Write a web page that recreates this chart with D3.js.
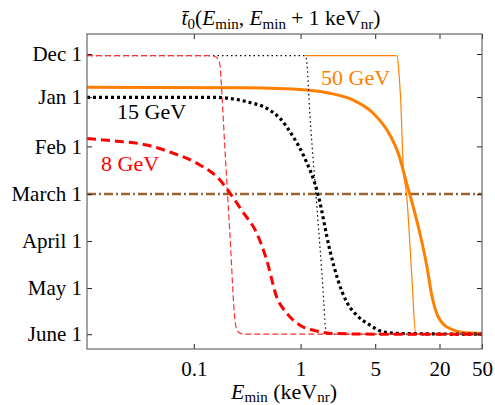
<!DOCTYPE html>
<html>
<head>
<meta charset="utf-8">
<script src="https://cdn.jsdelivr.net/npm/d3@7"></script>
<style>
  body { margin: 0; background: #fff; }
  svg text { font-family: "Liberation Serif", "DejaVu Serif", serif; }
</style>
</head>
<body>
<svg id="chart" width="495" height="405"></svg>
<script>
// ---- data (E_min in keVnr, t0 in days after Dec 1) ----
const monthLabels = ["Dec 1", "Jan 1", "Feb 1", "March 1", "April 1", "May 1", "June 1"];
const monthDays   = [0, 28, 60, 91, 121.5, 152, 182];
const xTicks      = [0.1, 1, 5, 20, 50];
const refDay      = 91; // March 1

const orangeThickE = [0.01, 0.313, 1.14, 1.88, 3.11, 4.80, 6.87, 8.22, 9.85, 11.35, 13.1, 15.2, 16.9, 18.2, 19.5, 25.0, 35.9, 50];
const orangeThickT = [21.6, 21.9, 23.4, 25.5, 29.9, 38.5, 52.6, 64.5, 84.0, 99.3, 116.5, 137.5, 156.5, 165.5, 170.8, 178.3, 181.1, 181.5];
const orangeThinE  = [1.1, 7.66, 8.04, 8.34, 8.65, 9.15, 9.85, 10.97, 11.96, 12.6, 50];
const orangeThinT  = [1.1, 1.1, 1.3, 12.5, 28.8, 73.3, 91.6, 142.5, 181.5, 182, 182];

const blackThickE = [0.01, 0.151, 0.313, 0.482, 0.641, 0.854, 1.06, 1.455, 1.88, 2.24, 2.70, 3.35, 4.47, 5.95, 8.53, 50];
const blackThickT = [28.1, 28.1, 31.0, 35.3, 41.8, 53.8, 65.6, 91, 127.4, 146.9, 161.0, 169.6, 176.1, 180.5, 181.5, 182];
const blackThinE  = [0.01, 1.099, 1.122, 1.16, 1.201, 1.406, 1.646, 1.70, 1.75, 1.81, 50];
const blackThinT  = [1.1, 1.1, 2.0, 10.4, 29.9, 94.9, 159.9, 176, 181, 182, 182];

const redThickE = [0.01, 0.0175, 0.0362, 0.0639, 0.1065, 0.176, 0.218, 0.289, 0.388, 0.482, 0.597, 0.741, 0.987, 1.415, 2.01, 4, 10, 50];
const redThickT = [54.8, 56.4, 59.1, 64.4, 70.9, 81.9, 90.3, 102.7, 116.3, 133.9, 157.8, 168.3, 176.2, 179.9, 181.5, 181.9, 182, 182];
const redThinE  = [0.01, 0.142, 0.158, 0.1685, 0.176, 0.180, 0.196, 0.218, 0.243, 0.254, 0.271, 0.30, 50];
const redThinT  = [1.1, 1.1, 1.6, 3.2, 7.2, 16.9, 62.5, 117, 172.9, 179.4, 181.3, 182, 182];

const series = [
    {E: orangeThinE,  T: orangeThinT,  color: "#ff8000", width: 1.2, dash: null},
    {E: orangeThickE, T: orangeThickT, color: "#ff8000", width: 3,   dash: null},
    {E: blackThinE,   T: blackThinT,   color: "#000",    width: 1.2, dash: "1.5,3"},
    {E: blackThickE,  T: blackThickT,  color: "#000",    width: 3.2, dash: "3,3"},
    {E: redThinE,     T: redThinT,     color: "#ff3030", width: 1.2, dash: "6,3"},
    {E: redThickE,    T: redThickT,    color: "#ff0000", width: 3,   dash: "9,5"}
];

const labels = [
    {text: "50 GeV", x: 321, y: 85,  color: "#ff8000"},
    {text: "15 GeV", x: 117, y: 119, color: "#000"},
    {text: "8 GeV",  x: 101, y: 171, color: "#ff0000"}
];

// ---- layout ----
const margin = {top: 34, right: 13, bottom: 56, left: 87};
const width = 495 - margin.left - margin.right;
const height = 405 - margin.top - margin.bottom;

const svg = d3.select("#chart");
const chart = svg.append("g").attr("transform", `translate(${margin.left},${margin.top})`);

const xScale = d3.scaleLog().domain([0.01, 50]).range([0, width]);
const yScale = d3.scaleLinear().domain([-13, 191.6]).range([0, height]);

// clip so curves stay inside the frame
chart.append("clipPath").attr("id", "clip")
    .append("rect").attr("width", width).attr("height", height);

const plot = chart.append("g").attr("clip-path", "url(#clip)");

// March 1 reference line
plot.append("line")
    .attr("x1", 0).attr("x2", width)
    .attr("y1", yScale(refDay)).attr("y2", yScale(refDay))
    .attr("stroke", "#996633")
    .attr("stroke-width", 2.5)
    .attr("stroke-dasharray", "9,3,2,3");

const line = d3.line()
    .x(d => xScale(d[0]))
    .y(d => yScale(d[1]))
    .curve(d3.curveMonotoneX);

series.forEach(s => {
    plot.append("path")
        .datum(s.E.map((e, i) => [e, s.T[i]]))
        .attr("fill", "none")
        .attr("stroke", s.color)
        .attr("stroke-width", s.width)
        .attr("stroke-dasharray", s.dash)
        .attr("d", line);
});

// Axes: ticks inside the frame, mirrored on top/right
const tickLen = 5;
const xAxisB = d3.axisBottom(xScale).tickValues(xTicks).tickFormat(d3.format("~g")).tickSizeInner(-tickLen).tickSizeOuter(0).tickPadding(12);
const xAxisT = d3.axisTop(xScale).tickValues(xTicks).tickFormat("").tickSizeInner(-tickLen).tickSizeOuter(0);
const yAxisL = d3.axisLeft(yScale).tickValues(monthDays).tickFormat((d, i) => monthLabels[i]).tickSizeInner(-tickLen).tickSizeOuter(0).tickPadding(5);
const yAxisR = d3.axisRight(yScale).tickValues(monthDays).tickFormat("").tickSizeInner(-tickLen).tickSizeOuter(0);

const gB = chart.append("g").attr("transform", `translate(0,${height})`).call(xAxisB);
const gT = chart.append("g").call(xAxisT);
const gL = chart.append("g").call(yAxisL);
const gR = chart.append("g").attr("transform", `translate(${width},0)`).call(yAxisR);

[gB, gT, gL, gR].forEach(g => {
    g.select(".domain").remove();
    g.selectAll(".tick line").attr("stroke", "#222");
    g.selectAll("text")
        .attr("fill", "#000")
        .style("font-family", "'Liberation Serif', serif")
        .style("font-size", "21px");
});

// frame
chart.append("rect")
    .attr("width", width).attr("height", height)
    .attr("fill", "none")
    .attr("stroke", "#666")
    .attr("stroke-width", 1.2);

// curve labels
labels.forEach(l => {
    chart.append("text")
        .attr("x", l.x - margin.left)
        .attr("y", l.y - margin.top)
        .attr("fill", l.color)
        .style("font-size", "22px")
        .text(l.text);
});

// Title: t̄0(Emin, Emin + 1 keVnr)
const title = svg.append("text")
    .attr("x", 281).attr("y", 25)
    .attr("text-anchor", "middle")
    .style("font-size", "21.5px");
title.append("tspan").style("font-style", "italic").text("t\u0304");
title.append("tspan").attr("dy", 4).style("font-size", "15px").text("0");
title.append("tspan").attr("dy", -4).text("(");
title.append("tspan").style("font-style", "italic").text("E");
title.append("tspan").attr("dy", 4).style("font-size", "15px").text("min");
title.append("tspan").attr("dy", -4).text(", ");
title.append("tspan").style("font-style", "italic").text("E");
title.append("tspan").attr("dy", 4).style("font-size", "15px").text("min");
title.append("tspan").attr("dy", -4).text(" + 1 keV");
title.append("tspan").attr("dy", 4).style("font-size", "15px").text("nr");
title.append("tspan").attr("dy", -4).text(")");

// X label: Emin (keVnr)
const xLabel = svg.append("text")
    .attr("x", 284).attr("y", 399)
    .attr("text-anchor", "middle")
    .style("font-size", "22px");
xLabel.append("tspan").style("font-style", "italic").text("E");
xLabel.append("tspan").attr("dy", 3).style("font-size", "15px").text("min");
xLabel.append("tspan").attr("dy", -3).text(" (keV");
xLabel.append("tspan").attr("dy", 3).style("font-size", "15px").text("nr");
xLabel.append("tspan").attr("dy", -3).text(")");
</script>
</body>
</html>
